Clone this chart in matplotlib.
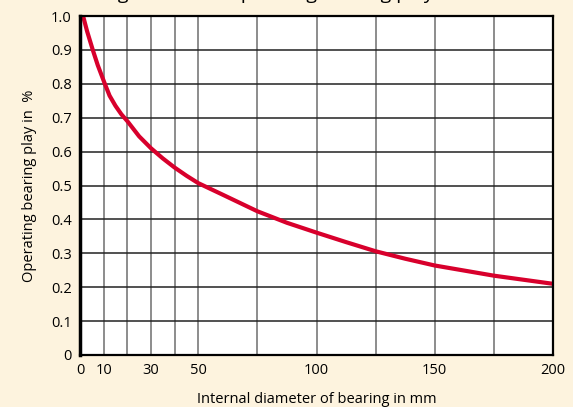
import matplotlib.pyplot as plt

diameter = [1.3, 3, 5.4, 7.5, 10.5, 12.5, 15, 17.5, 20, 25, 30, 35, 40, 45, 50, 60, 67.5, 75, 87.5,
            100, 112.5, 125, 137.5, 150, 175, 200]
bearing_play = [1.0, 0.955, 0.9, 0.855, 0.8, 0.765, 0.735, 0.71, 0.69, 0.645, 0.61, 0.58, 0.553,
                0.529, 0.507, 0.474, 0.449, 0.424, 0.39, 0.361, 0.333, 0.306, 0.284, 0.264, 0.234, 0.21]

x_grid = [10, 20, 30, 40, 50, 75, 100, 125, 150, 175]
x_ticks = [0, 10, 30, 50, 100, 150, 200]
y_ticks = [0, 0.1, 0.2, 0.3, 0.4, 0.5, 0.6, 0.7, 0.8, 0.9, 1.0]
y_labels = ['0', '0.1', '0.2', '0.3', '0.4', '0.5', '0.6', '0.7', '0.8', '0.9', '1.0']

bg = '#fdf3de'
plt.rcParams['font.family'] = ['Open Sans', 'DejaVu Sans']

fig = plt.figure(figsize=(5.73, 4.07), dpi=100, facecolor=bg)
ax = fig.add_axes([80 / 573, 1 - 355 / 407, 473 / 573, 339 / 407])
ax.set_facecolor('white')

for xv in x_grid:
    ax.axvline(xv, color='#6e6e6e', lw=1.1, zorder=1)
for yv in y_ticks[1:-1]:
    ax.axhline(yv, color='#222222', lw=1.1, zorder=1)

ax.plot(diameter, bearing_play, color='#d8002c', lw=3, solid_joinstyle='round', zorder=3)

ax.set_xlim(0, 200)
ax.set_ylim(0, 1.0)
ax.set_xticks(x_ticks)
ax.set_xticklabels([str(v) for v in x_ticks], fontsize=10.5)
ax.set_yticks(y_ticks)
ax.set_yticklabels(y_labels, fontsize=10.5)
ax.tick_params(length=0, pad=6)
for side in ax.spines.values():
    side.set_linewidth(1.6)
    side.set_color('black')
    side.set_zorder(4)
ax.spines['left'].set_linewidth(2.5)

ax.set_xlabel('Internal diameter of bearing in mm', fontsize=10.5, labelpad=10)
ax.set_ylabel('Operating bearing play in  %', fontsize=10.5, labelpad=10)

fig.text(88 / 573, 1 + 1.0 / 407, 'Diagram of the operating bearing play', fontsize=14,
         va='baseline', ha='left')

fig.savefig('out.png', dpi=100, facecolor=bg)
